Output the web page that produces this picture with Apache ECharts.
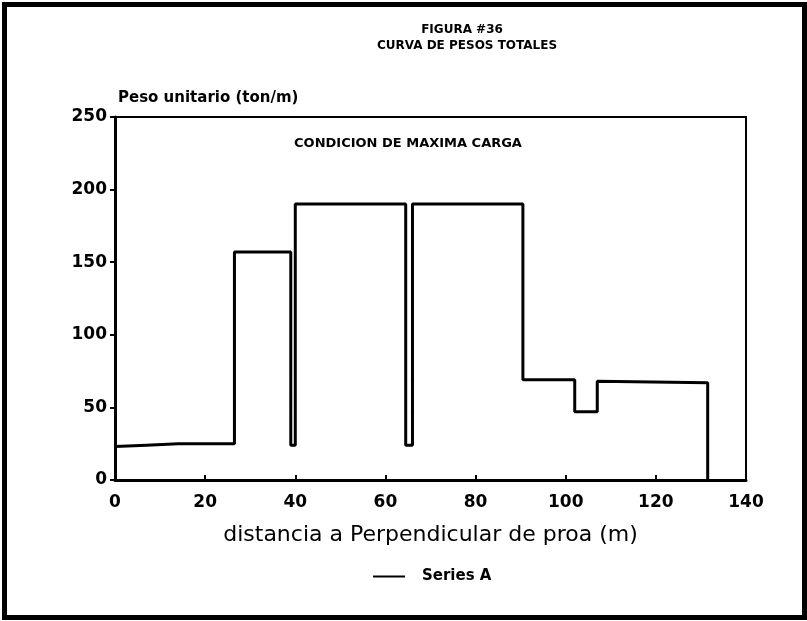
<!DOCTYPE html>
<html>
<head>
<meta charset="utf-8">
<script src="https://cdn.jsdelivr.net/npm/echarts@6/dist/echarts.min.js"></script>
<style>
  html, body { margin: 0; padding: 0; background: #fff; }
  #chart { width: 807px; height: 621px; }
</style>
</head>
<body>
<div id="chart"></div>
<script>
// distancia desde la perpendicular de proa (m) y peso unitario (ton/m)
var distancias = [0, 7, 14, 26.5, 26.5, 39, 39, 40, 40, 64.5, 64.5, 66, 66, 90.5, 90.5, 102, 102, 107, 107, 131.5, 131.5];
var pesos = [23, 24, 25, 25, 157, 157, 24, 24, 190, 190, 24, 24, 190, 190, 69, 69, 47, 47, 68, 67, 0];
var xTicks = [0, 20, 40, 60, 80, 100, 120, 140];
var yTicks = [0, 50, 100, 150, 200, 250];

var serie = distancias.map(function (d, i) { return [d, pesos[i]]; });

var myChart = echarts.init(document.getElementById('chart'));
var fuente = '"DejaVu Sans", Arial, sans-serif';

var option = {
  backgroundColor: '#fff',
  animation: false,
  textStyle: { fontFamily: fuente, color: '#000' },
  grid: {
    left: 115, right: 61, top: 117, bottom: 141,
    show: true, borderColor: '#000', borderWidth: 2
  },
  legend: {
    data: ['Series A'],
    left: 368, top: 564,
    itemWidth: 32, itemHeight: 2,
    icon: 'rect',
    textStyle: { fontFamily: fuente, fontWeight: 'bold', fontSize: 15, color: '#000', padding: [0, 0, 0, 12] }
  },
  xAxis: {
    type: 'value',
    min: xTicks[0], max: xTicks[xTicks.length - 1], interval: 20,
    name: 'distancia a Perpendicular de proa (m)',
    nameLocation: 'middle', nameGap: 44,
    nameTextStyle: { fontFamily: fuente, fontSize: 22, color: '#000' },
    axisLine: { lineStyle: { color: '#000', width: 3 } },
    axisTick: { inside: true, length: 5, lineStyle: { color: '#000', width: 2 } },
    axisLabel: { margin: 14, fontSize: 17, fontWeight: 'bold', color: '#000', fontFamily: fuente },
    splitLine: { show: false }
  },
  yAxis: {
    type: 'value',
    min: yTicks[0], max: yTicks[yTicks.length - 1], interval: 50,
    axisLine: { show: true, lineStyle: { color: '#000', width: 3 } },
    axisTick: { show: true, length: 5, lineStyle: { color: '#000', width: 2 } },
    axisLabel: { margin: 8, fontSize: 17, fontWeight: 'bold', color: '#000', fontFamily: fuente },
    splitLine: { show: false }
  },
  graphic: [
    {
      type: 'rect', silent: true, z: 100,
      shape: { x: 4.5, y: 4.5, width: 800, height: 613 },
      style: { fill: null, stroke: '#000', lineWidth: 5 }
    },
    {
      type: 'text', z: 100,
      style: {
        text: 'FIGURA #36', x: 462, y: 24, align: 'center',
        font: 'bold 12px ' + fuente, fill: '#000'
      }
    },
    {
      type: 'text', z: 100,
      style: {
        text: 'CURVA DE PESOS TOTALES', x: 467, y: 40, align: 'center',
        font: 'bold 12px ' + fuente, fill: '#000'
      }
    },
    {
      type: 'text', z: 100,
      style: {
        text: 'Peso unitario (ton/m)', x: 118, y: 91,
        font: 'bold 15px ' + fuente, fill: '#000'
      }
    },
    {
      type: 'text', z: 100,
      style: {
        text: 'CONDICION DE MAXIMA CARGA', x: 408, y: 137, align: 'center',
        font: 'bold 13px ' + fuente, fill: '#000'
      }
    }
  ],
  series: [
    {
      name: 'Series A',
      type: 'line',
      data: serie,
      symbol: 'none',
      lineStyle: { color: '#000', width: 3 },
      itemStyle: { color: '#000' }
    }
  ]
};

myChart.setOption(option);
</script>
</body>
</html>
